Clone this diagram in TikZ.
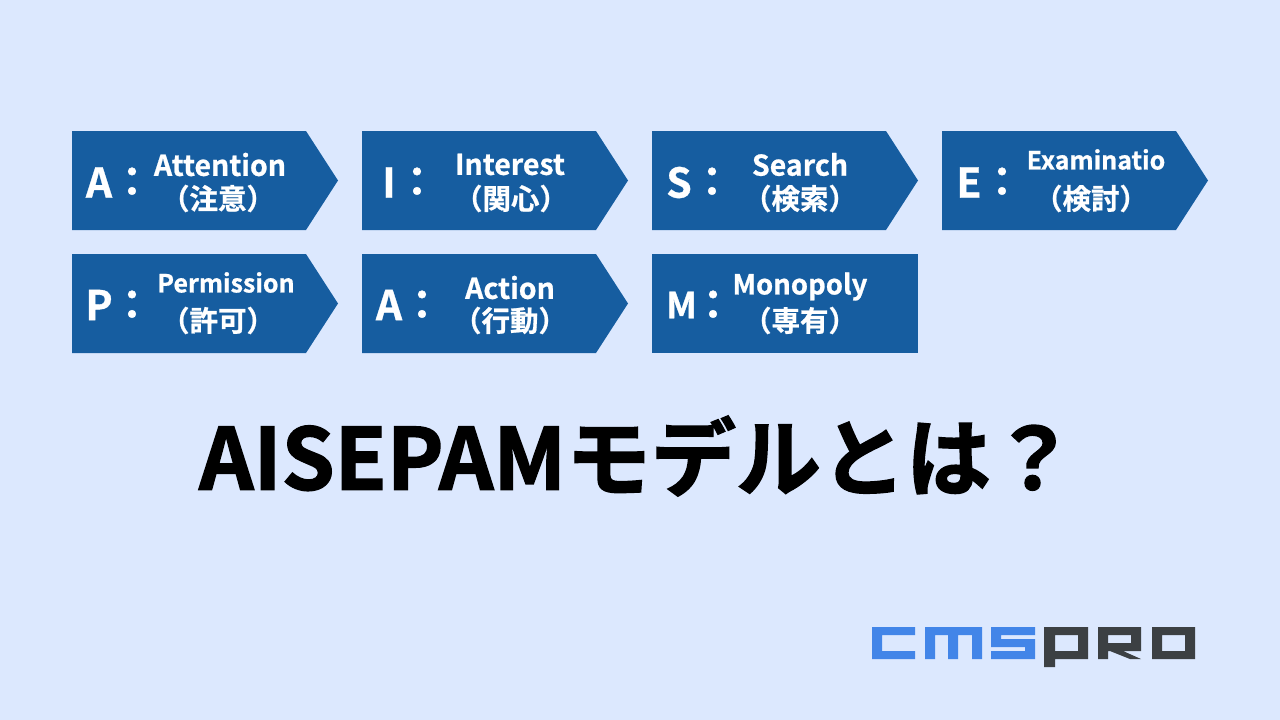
\documentclass[tikz,border=0pt]{standalone}
\usepackage{fontspec}
\setmainfont{Noto Sans CJK JP}[BoldFont={Noto Sans CJK JP Bold},BoldFeatures={FakeBold=0.8}]
\newfontfamily\titlefont{Noto Sans CJK JP Bold}[FakeBold=1.7]
\definecolor{bgc}{HTML}{DCE8FE}
\definecolor{boxc}{HTML}{165DA0}
\definecolor{logob}{HTML}{4285E8}
\definecolor{logod}{HTML}{3C4043}
\tikzset{
  lbl/.style={inner sep=0pt,text=white,font=\bfseries\fontsize{#1}{#1}\selectfont},
  lbl/.default=27,
  box/.style={fill=boxc,draw=none},
}
\newcommand{\arrowbox}[3]{% x, y, name
  \path[box] (#1,#2) -- ++(234,0) -- ++(32,49.5) -- ++(-32,49.5) -- ++(-234,0) -- cycle;
}
\begin{document}
\begin{tikzpicture}[x=1pt,y=-1pt]
\useasboundingbox (0,0) rectangle (1280,720);
\fill[bgc] (0,0) rectangle (1280,720);
\arrowbox{72}{131}{a}
\arrowbox{362}{131}{b}
\arrowbox{652}{131}{c}
\arrowbox{942}{131}{d}
\arrowbox{72}{254}{e}
\arrowbox{362}{254}{f}
\path[box] (652,254) rectangle (918,353);
% letters
\foreach \n/\x/\y/\t in {la/99/182.5/A,lb/389/182.5/I,lc/679/182.5/S,ld/969/182.5/E,le/99/305/P,lf/389/305/A}
  \node[lbl=41] (\n) at (\x,\y) {\t};
\node[lbl=36] (lg) at (681.5,305) {M};
% colons
\foreach \n/\x/\y in {ca/132/182,cb/417/182,cc/712/182,cd/1002/182,ce/132/305,cf/422/305,cg/713/305}
  \node[lbl=41] (\n) at (\x,\y) {\makebox[12pt][c]{：}};
% first lines
\node[lbl=28.5] (t1) at (220,164.5) {Attention};
\node[lbl=28.5] (t2) at (510,164.5) {Interest};
\node[lbl=28.5] (t3) at (800,164.5) {Search};
\node[lbl=25] (t4) at (1096,159.5) {Examinatio};
\node[lbl=25] (t5) at (226,282.5) {Permission};
\node[lbl=28.5] (t6) at (510,287.5) {Action};
\node[lbl=27.5] (t7) at (800,286.5) {Monopoly};
% second lines
\node[lbl=28.5] (j1) at (218,198.5) {（注意）};
\node[lbl=28.5] (j2) at (511,198.5) {（関心）};
\node[lbl=28.5] (j3) at (800,198.5) {（検索）};
\node[lbl=28.5] (j4) at (1091,198.5) {（検討）};
\node[lbl=28.5] (j5) at (218,320.5) {（許可）};
\node[lbl=28.5] (j6) at (510,320.5) {（行動）};
\node[lbl=28.5] (j7) at (800,320.5) {（専有）};
% title
\node[inner sep=0pt,text=black,font=\titlefont\fontsize{85}{85}\selectfont] (title) at (637.5,456) {AISEPAMモデルとは？};
% logo
\fill[logob] (872,627) -- (915,627) -- (915,635) -- (882,635) -- (882,651) -- (915,651) -- (915,659) -- (872,659) -- cycle;
\fill[logob] (925,627) -- (982,627) -- (982,659) -- (972,659) -- (972,635) -- (958,635) -- (958,659) -- (948,659) -- (948,635) -- (935,635) -- (935,659) -- (925,659) -- cycle;
\fill[logob] (991,627) -- (1035,627) -- (1035,635) -- (1001,635) -- (1001,639) -- (1035,639) -- (1035,659) -- (991,659) -- (991,651) -- (1025,651) -- (1025,647) -- (991,647) -- cycle;
\fill[logod,even odd rule] (1044,627) -- (1088,627) -- (1088,659) -- (1055,659) -- (1055,667) -- (1044,667) -- cycle (1055,635) rectangle (1078,651);
\fill[logod,even odd rule] (1098,627) -- (1141,627) -- (1141,651) -- (1123,651) -- (1141,659) -- (1130,659) -- (1110,651) -- (1108,651) -- (1108,659) -- (1098,659) -- cycle (1108,635) rectangle (1131,643);
\fill[logod,even odd rule] (1152,627) rectangle (1195,659) (1162,635) rectangle (1185,651);
\end{tikzpicture}
\end{document}
